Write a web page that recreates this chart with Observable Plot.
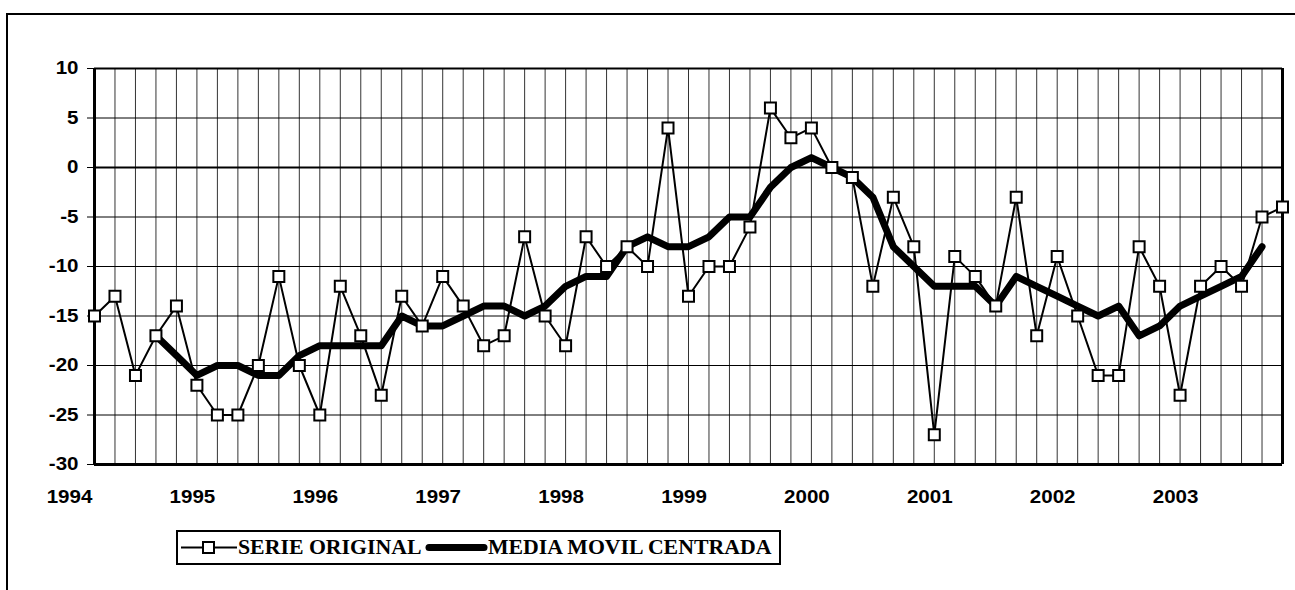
<!DOCTYPE html>
<html>
<head>
<meta charset="utf-8">
<script src="https://cdn.jsdelivr.net/npm/d3@7"></script>
<script src="https://cdn.jsdelivr.net/npm/@observablehq/plot@0.6"></script>
<style>
  html, body { margin: 0; padding: 0; background: #fff; }
  body { width: 1295px; height: 590px; overflow: hidden; position: relative; font-family: "Liberation Sans", Arial, sans-serif; }
  #chart { position: absolute; left: 0; top: 0; }
  #frame { position: absolute; left: 6px; top: 13px; width: 1400px; height: 700px; border-top: 2px solid #000; border-left: 2px solid #000; pointer-events: none; z-index: 5; }
  #legend { position: absolute; left: 176px; top: 530px; width: 601px; height: 31px; border: 2px solid #000; background: #fff;
            font-family: "Liberation Serif", "Times New Roman", serif; font-weight: bold; font-size: 20px; color: #000; }
  #legend .item { position: absolute; top: 0; height: 31px; line-height: 31px; white-space: nowrap; }
  #legend .txt { display: inline-block; transform: scaleX(1.09); transform-origin: left center; }
  #legend svg { position: absolute; top: 0; }
</style>
</head>
<body>
<div id="chart"></div>
<div id="legend"></div>
<div id="frame"></div>
<script>
// ---- data (bimonthly balance series, 1994–2003) ----
const seriesNames = ["SERIE ORIGINAL", "MEDIA MOVIL CENTRADA"];
const original = [
  -15, -13, -21, -17, -14, -22, -25, -25, -20, -11,
  -20, -25, -12, -17, -23, -13, -16, -11, -14, -18,
  -17, -7, -15, -18, -7, -10, -8, -10, 4, -13,
  -10, -10, -6, 6, 3, 4, 0, -1, -12, -3,
  -8, -27, -9, -11, -14, -3, -17, -9, -15, -21,
  -21, -8, -12, -23, -12, -10, -12, -5, -4
];
const movingAvg = [
  null, null, null, -17, -19, -21, -20, -20, -21, -21,
  -19, -18, -18, -18, -18, -15, -16, -16, -15, -14,
  -14, -15, -14, -12, -11, -11, -8, -7, -8, -8,
  -7, -5, -5, -2, 0, 1, 0, -1, -3, -8,
  -10, -12, -12, -12, -14, -11, -12, -13, -14, -15,
  -14, -17, -16, -14, -13, -12, -11, -8, null
];
const yearLabels = ["1994", "1995", "1996", "1997", "1998", "1999", "2000", "2001", "2002", "2003"];
const yearStartIndex = [0, 6, 12, 18, 24, 30, 36, 42, 48, 54];
const yTicks = [-30, -25, -20, -15, -10, -5, 0, 5, 10];

// ---- tables built from the arrays ----
const rows = original.map((v, i) => ({ i, orig: v, ma: movingAvg[i] }));
const yearRows = yearLabels.map((label, k) => ({ i: yearStartIndex[k], label }));
const idxMin = d3.min(rows, d => d.i), idxMax = d3.max(rows, d => d.i);
const yMin = d3.min(yTicks), yMax = d3.max(yTicks);

const chart = Plot.plot({
  width: 1295,
  height: 520,
  marginLeft: 94,
  marginRight: 13,
  marginTop: 68,
  marginBottom: 56,
  x: { domain: [idxMin, idxMax], axis: null },
  y: { domain: [yMin, yMax], ticks: yTicks, tickSize: 7, tickPadding: 9, label: null, tickFormat: d => String(d) },
  style: { fontFamily: '"Liberation Sans", Arial, sans-serif', fontSize: "18px", fontWeight: "bold", color: "#000", background: "transparent", overflow: "visible" },
  marks: [
    Plot.ruleX(rows, { x: "i", stroke: "#000", strokeWidth: 1, strokeOpacity: 0.8 }),
    Plot.ruleY(yTicks.filter(d => d !== 0 && d !== yMin && d !== yMax), { stroke: "#000", strokeWidth: 1 }),
    Plot.ruleY(yTicks.filter(d => d === 0 || d === yMax), { stroke: "#000", strokeWidth: 2 }),
    Plot.ruleY([yMin], { stroke: "#000", strokeWidth: 3 }),
    Plot.ruleX([idxMin, idxMax], { stroke: "#000", strokeWidth: 3 }),
    Plot.line(rows, { x: "i", y: "ma", stroke: "#000", strokeWidth: 7, strokeLinejoin: "round", strokeLinecap: "round" }),
    Plot.line(rows, { x: "i", y: "orig", stroke: "#000", strokeWidth: 2 }),
    Plot.dot(rows, { x: "i", y: "orig", symbol: "square", r: 6.2, fill: "#fff", stroke: "#000", strokeWidth: 2 }),
    Plot.text(yearRows, { x: "i", text: "label", frameAnchor: "bottom", dy: 38, dx: -25, fill: "#000" })
  ]
});
document.getElementById("chart").appendChild(chart);

// widen the glyphs horizontally like the stretched original
chart.querySelectorAll("text").forEach(t => {
  const L = t.getComputedTextLength();
  if (L > 0) {
    t.setAttribute("textLength", (L * 1.14).toFixed(1));
    t.setAttribute("lengthAdjust", "spacingAndGlyphs");
  }
});

// ---- legend ----
const legend = document.getElementById("legend");
legend.innerHTML = `
  <svg style="left:3px" width="56" height="31">
    <line x1="0" x2="56" y1="15.5" y2="15.5" stroke="#000" stroke-width="2"/>
    <rect x="22" y="10" width="11" height="11" fill="#fff" stroke="#000" stroke-width="2"/>
  </svg>
  <div class="item" style="left:60px"><span class="txt">${seriesNames[0]}</span></div>
  <svg style="left:246px" width="66" height="31">
    <line x1="5" x2="60" y1="15.5" y2="15.5" stroke="#000" stroke-width="7" stroke-linecap="round"/>
  </svg>
  <div class="item" style="left:310px"><span class="txt">${seriesNames[1]}</span></div>
`;
</script>
</body>
</html>
